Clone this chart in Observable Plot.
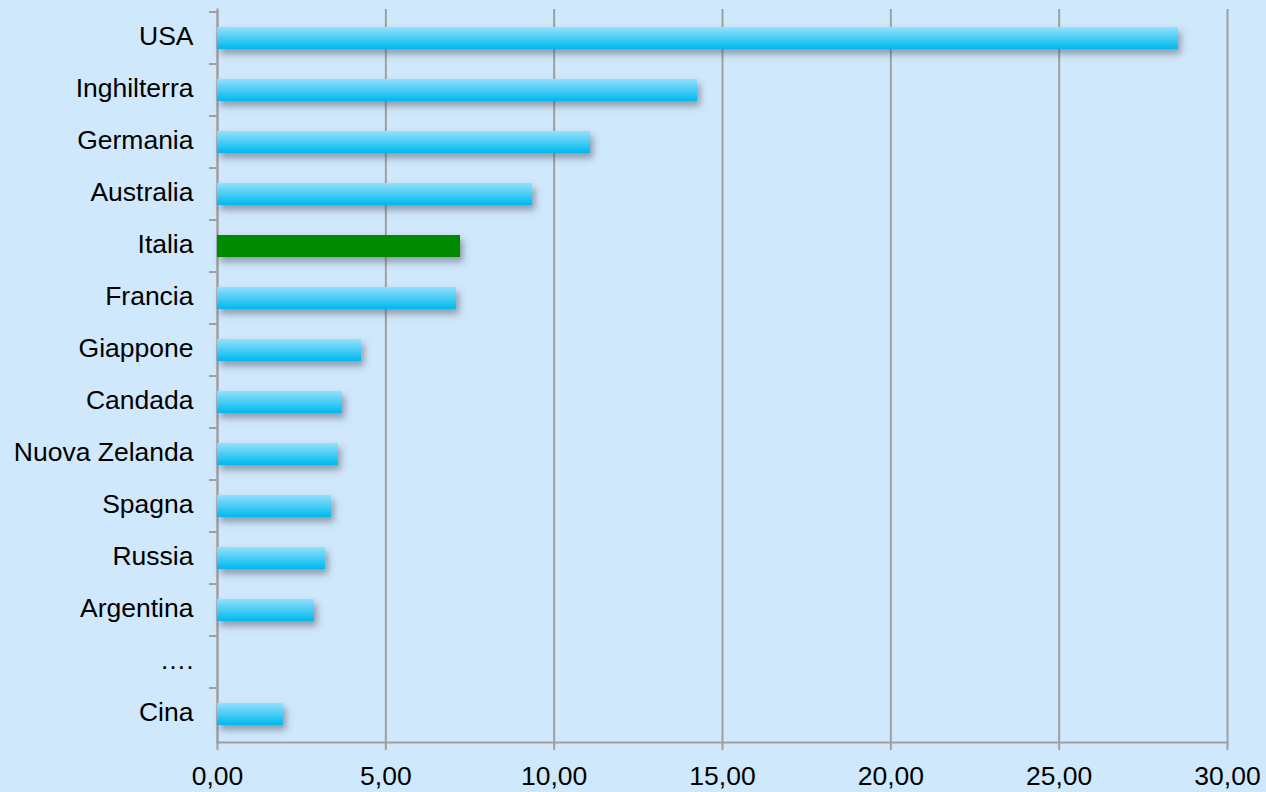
<!DOCTYPE html>
<html>
<head>
<meta charset="utf-8">
<script src="https://cdn.jsdelivr.net/npm/d3@7"></script>
<script src="https://cdn.jsdelivr.net/npm/@observablehq/plot@0.6"></script>
<style>
  html, body { margin: 0; padding: 0; background: #d0e8fc; }
  #chart { width: 1266px; height: 792px; }
  svg { display: block; }
</style>
</head>
<body>
<div id="chart"></div>
<script>
const countries = ["USA", "Inghilterra", "Germania", "Australia", "Italia", "Francia", "Giappone", "Candada", "Nuova Zelanda", "Spagna", "Russia", "Argentina", "….", "Cina"];
const values = [28.54, 14.26, 11.08, 9.36, 7.22, 7.10, 4.28, 3.71, 3.59, 3.39, 3.21, 2.88, null, 1.96];
const highlight = "Italia";
const xTicks = [0, 5, 10, 15, 20, 25, 30];

const data = countries.map((c, i) => ({country: c, value: values[i]})).filter(d => d.value != null);
const fmt = d => d.toFixed(2).replace(".", ",");
const axisColor = "#9f9f9f";

const plot = Plot.plot({
  width: 1266,
  height: 792,
  marginLeft: 217,
  marginRight: 39,
  marginTop: 9,
  marginBottom: 50,
  style: {background: "#d0e8fc", fontFamily: "'Liberation Sans', Arial, sans-serif", fontSize: "26px", color: "#000"},
  x: {domain: [0, 30], ticks: xTicks},
  y: {domain: countries, paddingInner: 0.58, paddingOuter: 0.29, label: null},
  marks: [
    Plot.gridX(xTicks, {stroke: axisColor, strokeOpacity: 1, strokeWidth: 2}),
    Plot.frame({anchor: "bottom", stroke: axisColor, strokeWidth: 2}),
    Plot.frame({anchor: "left", stroke: axisColor, strokeWidth: 2}),
    Plot.axisX(xTicks, {tickFormat: fmt, tickSize: 8, stroke: axisColor, strokeWidth: 2, text: null, label: null}),
    Plot.axisX(xTicks, {tickFormat: fmt, tickSize: 0, tickPadding: 0, dy: 24, fontSize: 26.5, label: null, fill: "#000"}),
    Plot.axisY({tickSize: 0, tickPadding: 24, fontSize: 26.5, label: null, fill: "#000", dy: -2}),
    Plot.barX(data, {
      x: "value",
      y: "country",
      fill: d => d.country === highlight ? "#008a00" : "#00b8ef"
    })
  ]
});

// gradient and shadow definitions
const svg = d3.select(plot);
const defs = svg.insert("defs", ":first-child");
const g = defs.append("linearGradient").attr("id", "barGrad").attr("x1", 0).attr("y1", 0).attr("x2", 0).attr("y2", 1);
g.append("stop").attr("offset", "0%").attr("stop-color", "#92e1fc");
g.append("stop").attr("offset", "100%").attr("stop-color", "#00b8ef");
const f = defs.append("filter").attr("id", "shadow").attr("x", "-10%").attr("y", "-30%").attr("width", "130%").attr("height", "200%");
f.append("feDropShadow").attr("dx", 3).attr("dy", 5).attr("stdDeviation", 3.5).attr("flood-color", "#4a4a5a").attr("flood-opacity", 0.5);

svg.selectAll("g[aria-label='bar'] rect").each(function(_, i) {
  const d = data[i];
  d3.select(this).attr("fill", d.country === highlight ? "#008a00" : "url(#barGrad)");
});
svg.selectAll("g[aria-label='bar']").attr("filter", "url(#shadow)");

// y-axis band-boundary ticks, derived from the plot's y scale
const ys = plot.scale("y");
const step = ys.step;
const xs = plot.scale("x");
const x0 = xs.apply(0);
const tickG = svg.append("g").attr("stroke", axisColor).attr("stroke-width", 2);
countries.forEach((c) => {
  const yTop = ys.apply(c) - (step - ys.bandwidth) / 2;
  tickG.append("line").attr("x1", x0 - 8).attr("x2", x0).attr("y1", yTop).attr("y2", yTop);
});

document.getElementById("chart").appendChild(plot);
</script>
</body>
</html>
